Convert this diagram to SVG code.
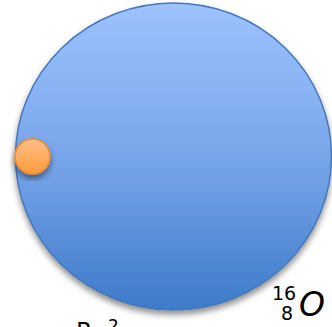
<svg xmlns="http://www.w3.org/2000/svg" width="332" height="327" viewBox="0 0 332 327">
<defs>
<linearGradient id="gBlue" x1="0" y1="0" x2="0" y2="1">
<stop offset="0" stop-color="#9DC3FF"/>
<stop offset="0.5" stop-color="#79A6EA"/>
<stop offset="1" stop-color="#3D7AC9"/>
</linearGradient>
<linearGradient id="gOrange" x1="0" y1="0" x2="0" y2="1">
<stop offset="0" stop-color="#FFC08A"/>
<stop offset="1" stop-color="#FF9A3C"/>
</linearGradient>
<filter id="shadow" x="-20%" y="-20%" width="140%" height="140%">
<feGaussianBlur in="SourceAlpha" stdDeviation="3"/>
<feOffset dx="0" dy="4" result="b"/>
<feComponentTransfer><feFuncA type="linear" slope="0.45"/></feComponentTransfer>
<feMerge><feMergeNode/><feMergeNode in="SourceGraphic"/></feMerge>
</filter>
</defs>
<style>
.math{font-family:"DejaVu Sans","Noto Sans",sans-serif;fill:#000}
</style>
<rect width="332" height="327" fill="#fff"/>
<g id="nucleus">
<ellipse cx="173.5" cy="156.5" rx="158" ry="153.5" fill="url(#gBlue)" stroke="#4677B8" stroke-width="1.5" filter="url(#shadow)"/>
</g>
<g id="particle">
<circle cx="32.5" cy="156.5" r="17.5" fill="url(#gOrange)" stroke="#F28C2E" stroke-width="1.5" filter="url(#shadow)"/>
</g>
<g id="label">
<text class="math" x="272" y="300" font-size="19">16</text>
<text class="math" x="281" y="320" font-size="19">8</text>
<text class="math" x="299" y="316" font-size="33" font-style="italic">O</text>
</g>
<g id="bottom-text">
<text class="math" x="76" y="340" font-size="24">R</text>
<text class="math" x="108" y="332" font-size="17">2</text>
</g>
</svg>
